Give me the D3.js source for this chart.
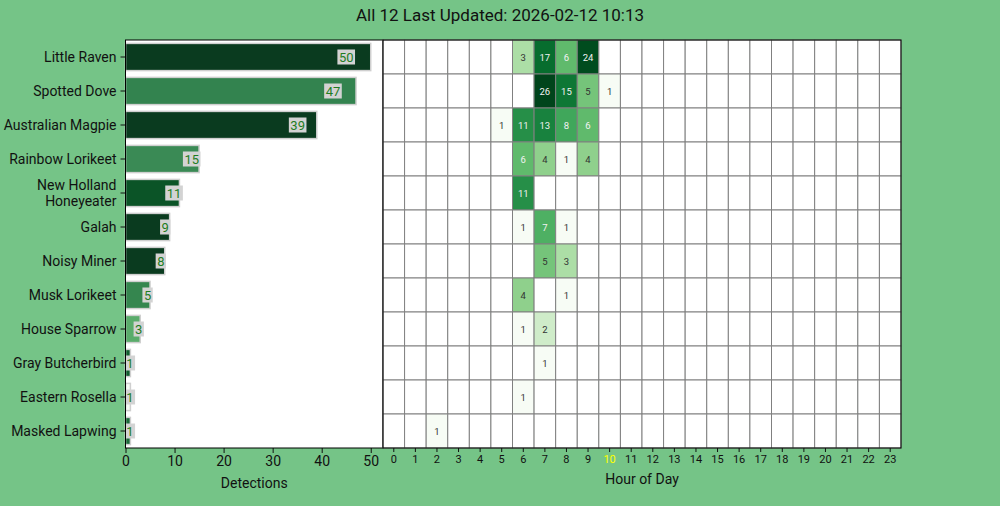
<!DOCTYPE html>
<html>
<head>
<meta charset="utf-8">
<script src="https://cdn.jsdelivr.net/npm/d3@7"></script>
<style>
  html, body { margin: 0; padding: 0; background: #75c487; }
  svg { display: block; font-family: Roboto, "DejaVu Sans", sans-serif; }
</style>
</head>
<body>
<svg id="chart" width="1000" height="506"></svg>
<script>
const title = "All 12 Last Updated: 2026-02-12 10:13";
const species = ["Little Raven", "Spotted Dove", "Australian Magpie", "Rainbow Lorikeet",
  "New Holland Honeyeater", "Galah", "Noisy Miner", "Musk Lorikeet", "House Sparrow",
  "Gray Butcherbird", "Eastern Rosella", "Masked Lapwing"];
const detections = [50, 47, 39, 15, 11, 9, 8, 5, 3, 1, 1, 1];
const barColors = ["#0a3b1f", "#33834f", "#0a3b1f", "#3a8a55", "#0b5427", "#0a3b1f",
  "#0a3b1f", "#35864f", "#5aac6b", "#115f2f", "#f5fbf4", "#1b6b3a"];
const hours = d3.range(24);
const currentHour = 10;
const xTicks = [0, 10, 20, 30, 40, 50];
// hourly counts per species: [hour, count]
const hourly = [
  [[6, 3], [7, 17], [8, 6], [9, 24]],
  [[7, 26], [8, 15], [9, 5], [10, 1]],
  [[5, 1], [6, 11], [7, 13], [8, 8], [9, 6]],
  [[6, 6], [7, 4], [8, 1], [9, 4]],
  [[6, 11]],
  [[6, 1], [7, 7], [8, 1]],
  [[7, 5], [8, 3]],
  [[6, 4], [8, 1]],
  [[6, 1], [7, 2]],
  [[7, 1]],
  [[6, 1]],
  [[2, 1]]
];

const svg = d3.select("#chart");
const plotTop = 40, plotBottom = 448;
const barLeft = 125.5, barRight = 383;
const heatLeft = 383, heatRight = 901;

svg.append("rect").attr("width", 1000).attr("height", 506).attr("fill", "#75c487");

svg.append("text").attr("x", 500).attr("y", 21).attr("text-anchor", "middle")
  .attr("font-size", 17).attr("fill", "#111").text(title);

// ---------- Bar chart ----------
const x = d3.scaleLinear().domain([0, 52.5]).range([barLeft, barRight]);
const y = d3.scaleBand().domain(species).range([plotTop, plotBottom]).paddingInner(0.2).paddingOuter(0.1);
const yRow = d3.scaleBand().domain(species).range([plotTop, plotBottom]).padding(0);

svg.append("rect").attr("x", barLeft).attr("y", plotTop).attr("width", barRight - barLeft)
  .attr("height", plotBottom - plotTop).attr("fill", "#fff");

const bars = svg.append("g");
bars.selectAll("rect").data(species).join("rect")
  .attr("x", x(0)).attr("y", d => y(d))
  .attr("width", (d, i) => x(detections[i]) - x(0))
  .attr("height", y.bandwidth())
  .attr("fill", (d, i) => barColors[i])
  .attr("stroke", "#cfcfcf").attr("stroke-width", 1.5);

// value labels
const labels = svg.append("g");
species.forEach((s, i) => {
  const g = labels.append("g");
  const cx = x(detections[i] * 0.9);
  const cy = y(s) + y.bandwidth() / 2;
  const t = g.append("text").attr("x", cx).attr("y", cy + 4.5)
    .attr("text-anchor", "middle").attr("font-size", 13).attr("fill", "#1f7d1f")
    .text(detections[i]);
  const bb = t.node().getBBox();
  g.insert("rect", "text").attr("x", bb.x - 1.5).attr("y", cy - 7.5)
    .attr("width", bb.width + 3).attr("height", 15).attr("fill", "#d3d3d3");
});

// axes
const xAxis = svg.append("g").attr("transform", `translate(0,${plotBottom})`)
  .call(d3.axisBottom(x).tickValues(xTicks).tickSize(5).tickPadding(3));
xAxis.select(".domain").remove();
xAxis.selectAll("text").attr("font-size", 14).attr("fill", "#111").attr("font-family", "Roboto");
xAxis.selectAll("line").attr("stroke", "#111");

const yAxis = svg.append("g").attr("transform", `translate(${barLeft},0)`)
  .call(d3.axisLeft(yRow).tickSize(5).tickPadding(4).tickFormat(""));
yAxis.select(".domain").remove();
yAxis.selectAll("line").attr("stroke", "#111");
yAxis.selectAll(".tick").each(function(d) {
  const t = d3.select(this).select("text").attr("font-size", 14).attr("fill", "#111")
    .attr("font-family", "Roboto").attr("dy", null);
  const parts = d === "New Holland Honeyeater" ? ["New Holland", "Honeyeater"] : [d];
  const lh = 16;
  parts.forEach((p, k) => {
    t.append("tspan").attr("x", -9).attr("y", (k - (parts.length - 1) / 2) * lh + 5).text(p);
  });
});

svg.append("rect").attr("x", barLeft).attr("y", plotTop).attr("width", barRight - barLeft)
  .attr("height", plotBottom - plotTop).attr("fill", "none").attr("stroke", "#000").attr("stroke-width", 1);

svg.append("text").attr("x", (barLeft + barRight) / 2).attr("y", 488).attr("text-anchor", "middle")
  .attr("font-size", 14).attr("fill", "#111").text("Detections");

// ---------- Heatmap ----------
const hx = d3.scaleBand().domain(hours).range([heatLeft, heatRight]).padding(0);
const color = d3.scaleSequentialLog(d3.interpolateGreens).domain([1, 26]);

const cells = [];
species.forEach((s, i) => {
  const m = new Map(hourly[i]);
  hours.forEach(h => cells.push({ s, h, v: m.get(h) || 0 }));
});

const heat = svg.append("g");
heat.selectAll("rect").data(cells).join("rect")
  .attr("x", d => hx(d.h)).attr("y", d => yRow(d.s))
  .attr("width", hx.bandwidth()).attr("height", yRow.bandwidth())
  .attr("fill", d => d.v > 0 ? color(d.v) : "#fff")
  .attr("stroke", "#808080").attr("stroke-width", 1);

heat.selectAll("text").data(cells.filter(d => d.v > 0)).join("text")
  .attr("x", d => hx(d.h) + hx.bandwidth() / 2)
  .attr("y", d => yRow(d.s) + yRow.bandwidth() / 2 + 3.5)
  .attr("text-anchor", "middle").attr("font-size", 9.5)
  .attr("fill", d => (Math.log(d.v) / Math.log(26)) > 0.52 ? "#f2f2f2" : "#333")
  .text(d => d.v);

svg.append("rect").attr("x", heatLeft).attr("y", plotTop).attr("width", heatRight - heatLeft)
  .attr("height", plotBottom - plotTop).attr("fill", "none").attr("stroke", "#000").attr("stroke-width", 1);

const hAxis = svg.append("g").attr("transform", `translate(0,${plotBottom})`)
  .call(d3.axisBottom(hx).tickSize(4).tickPadding(3));
hAxis.select(".domain").remove();
hAxis.selectAll("line").attr("stroke", "#111");
hAxis.selectAll("text").attr("font-size", 11).attr("font-family", "Roboto")
  .attr("fill", d => d === currentHour ? "#ffff00" : "#111");

svg.append("text").attr("x", (heatLeft + heatRight) / 2).attr("y", 484).attr("text-anchor", "middle")
  .attr("font-size", 14).attr("fill", "#111").text("Hour of Day");
</script>
</body>
</html>
